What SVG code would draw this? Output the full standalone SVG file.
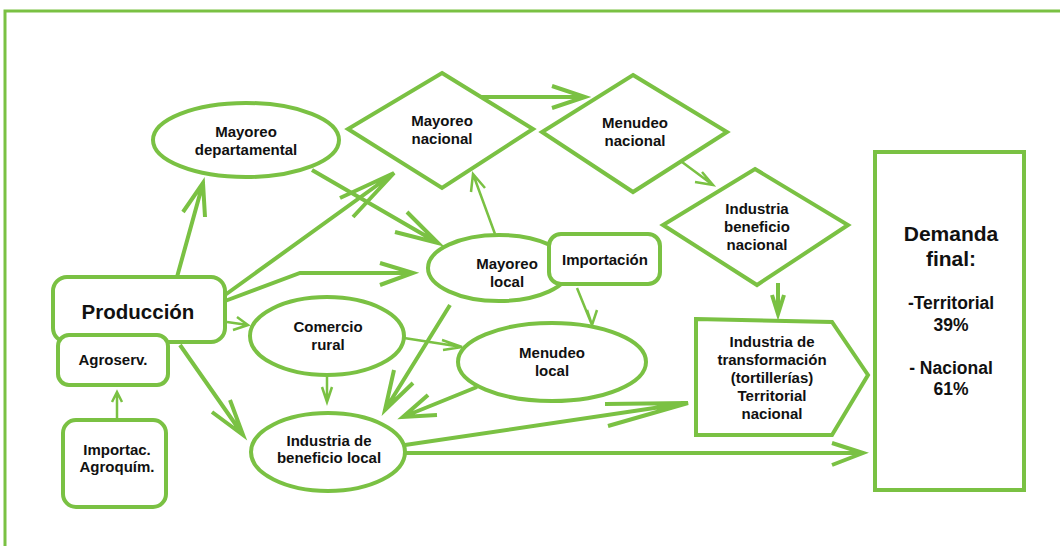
<svg xmlns="http://www.w3.org/2000/svg" width="1060" height="546" viewBox="0 0 1060 546">
<style>
.n{fill:#fff;stroke:#7ac143;stroke-width:4}
.c{fill:none;stroke:#7ac143;stroke-width:4;stroke-linejoin:miter}
.t{fill:none;stroke:#7ac143;stroke-width:2.5}
text{font-family:"Liberation Sans",Arial,sans-serif;font-weight:bold;fill:#111;text-anchor:middle;font-size:15px}
</style>
<rect width="1060" height="546" fill="#fff"/>
<path d="M5,546 V11 H1060" fill="none" stroke="#7ac143" stroke-width="3"/>
<g id="connectors">
<path class="c" d="M177,277 L203,183 M183,212 L203,183 L205,217"/>
<path class="c" d="M225,295 L394,173 M340,198 L394,173 L353,217"/>
<path class="c" d="M225,301 L300,273 L413,273 M380,263 L413,273 L380,285"/>
<path class="c" d="M312,170 L438,243 M407,212 L438,243 L395,232"/>
<path class="c" d="M477,97 L585,97 M552,86 L585,97 L552,108"/>
<path class="t" d="M495,234 L473,174 M471,192 L473,174 L485,188"/>
<path class="t" d="M682,162 L713,185 M702,172 L713,185 L695,182"/>
<path class="c" d="M778,283 L778,314 M772,295 L778,314 L784,295"/>
<path class="t" d="M227,322 L248,325 M237,317 L248,325 L233,330"/>
<path class="c" d="M180,345 L243,435 M212,412 L243,435 L230,400"/>
<path class="t" d="M404,338 L462,347 M442,340 L462,347 L443,350"/>
<path class="t" d="M327,377 L327,402 M322,387 L327,402 L332,387"/>
<path class="c" d="M450,305 L385,410 M394,370 L385,410 L413,383"/>
<path class="t" d="M577,288 L592,325 M587,310 L592,325 L597,310"/>
<path class="c" d="M477,387 L403,417 M428,395 L403,417 L437,415"/>
<path class="c" d="M405,445 L688,403 M605,404 L688,403 L608,426"/>
<path class="c" d="M405,453 L863,453 M832,443 L863,453 L832,465"/>
<path class="t" d="M117,420 L117,392 M112,402 L117,392 L122,402"/>
</g>
<g id="produccion">
<rect class="n" x="53" y="277" width="172" height="65" rx="14"/>
<text x="138" y="319" style="font-size:20.5px">Producción</text>
</g>
<g id="agroserv">
<rect class="n" x="58" y="335" width="110" height="50" rx="11"/>
<text x="113" y="365">Agroserv.</text>
</g>
<g id="importac">
<rect class="n" x="63" y="420" width="103" height="87" rx="13"/>
<text x="117" y="455">Importac.</text>
<text x="117" y="472">Agroquím.</text>
</g>
<g id="mayoreo-departamental">
<ellipse class="n" cx="246" cy="140" rx="93" ry="37"/>
<text x="246" y="137">Mayoreo</text>
<text x="246" y="155">departamental</text>
</g>
<g id="mayoreo-nacional">
<polygon class="n" points="442,73 533,129 442,188 348,129"/>
<text x="442" y="126">Mayoreo</text>
<text x="442" y="144">nacional</text>
</g>
<g id="menudeo-nacional">
<polygon class="n" points="633,75 727,132 633,192 542,132"/>
<text x="635" y="128">Menudeo</text>
<text x="635" y="146">nacional</text>
</g>
<g id="industria-beneficio-nacional">
<polygon class="n" points="755,169 848,225 757,285 663,225"/>
<text x="757" y="214">Industria</text>
<text x="757" y="232">beneficio</text>
<text x="757" y="250">nacional</text>
</g>
<g id="mayoreo-local">
<ellipse class="n" cx="499" cy="268" rx="71" ry="33"/>
<text x="507" y="269">Mayoreo</text>
<text x="507" y="287">local</text>
</g>
<g id="importacion">
<rect class="n" x="549" y="234" width="111" height="50" rx="12"/>
<text x="605" y="265">Importación</text>
</g>
<g id="comercio-rural">
<ellipse class="n" cx="327" cy="336" rx="77" ry="39"/>
<text x="328" y="332">Comercio</text>
<text x="328" y="350">rural</text>
</g>
<g id="menudeo-local">
<ellipse class="n" cx="552" cy="362" rx="94" ry="39"/>
<text x="552" y="358">Menudeo</text>
<text x="552" y="376">local</text>
</g>
<g id="industria-beneficio-local">
<ellipse class="n" cx="328" cy="452" rx="77" ry="39"/>
<text x="329" y="446">Industria de</text>
<text x="329" y="463">beneficio local</text>
</g>
<g id="industria-transformacion">
<polygon class="n" points="696,319 832,322 868,375 832,435 696,435"/>
<text x="772" y="347">Industria de</text>
<text x="772" y="365">transformación</text>
<text x="772" y="383">(tortillerías)</text>
<text x="772" y="401">Territorial</text>
<text x="772" y="419">nacional</text>
</g>
<g id="demanda-final">
<rect class="n" x="875" y="152" width="149" height="338"/>
<text x="951" y="241" style="font-size:21px">Demanda</text>
<text x="951" y="266" style="font-size:21px">final:</text>
<text x="951" y="309" style="font-size:17.5px">-Territorial</text>
<text x="951" y="331" style="font-size:17.5px">39%</text>
<text x="951" y="374" style="font-size:17.5px">- Nacional</text>
<text x="951" y="395" style="font-size:17.5px">61%</text>
</g>
</svg>
